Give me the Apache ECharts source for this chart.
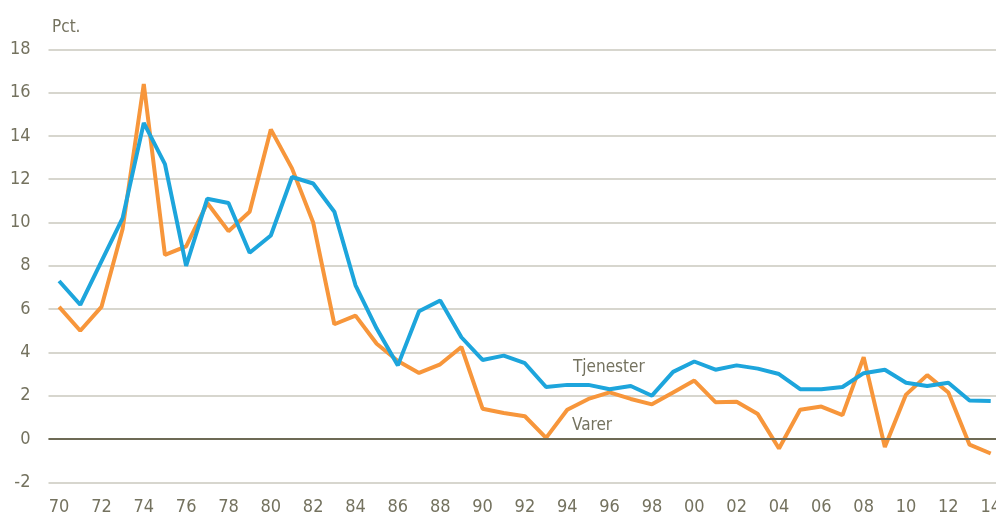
<!DOCTYPE html>
<html>
<head>
<meta charset="utf-8">
<script src="https://cdn.jsdelivr.net/npm/echarts@6/dist/echarts.min.js"></script>
<style>
html,body{margin:0;padding:0;background:#fff;overflow:hidden;}
#c{width:1004px;height:518px;}
</style>
</head>
<body>
<div id="c"></div>
<script>
const years = ['70','71','72','73','74','75','76','77','78','79','80','81','82','83','84','85','86','87','88','89','90','91','92','93','94','95','96','97','98','99','00','01','02','03','04','05','06','07','08','09','10','11','12','13','14'];
const tjenester = [7.3,6.2,8.2,10.2,14.6,12.7,8.0,11.1,10.9,8.6,9.4,12.1,11.8,10.5,7.1,5.1,3.4,5.9,6.4,4.7,3.65,3.85,3.5,2.4,2.5,2.5,2.3,2.45,2.0,3.1,3.58,3.2,3.4,3.25,3.0,2.3,2.3,2.4,3.04,3.2,2.6,2.45,2.6,1.78,1.75];
const varer = [6.1,5.0,6.1,9.7,16.4,8.5,8.9,10.9,9.6,10.5,14.3,12.5,10.0,5.3,5.7,4.4,3.6,3.05,3.45,4.25,1.4,1.2,1.05,0.05,1.35,1.85,2.15,1.85,1.6,2.15,2.7,1.7,1.72,1.15,-0.44,1.35,1.5,1.1,3.78,-0.37,2.05,2.95,2.15,-0.26,-0.67];
const yTicks = {min:-2, max:18, interval:2};
const unitLabel = 'Pct.';
const seriesNames = ['Tjenester','Varer'];

// pick a condensed font that is installed
const ctx = document.createElement('canvas').getContext('2d');
function mw(f){ ctx.font = f; return ctx.measureText('Tjenester 18 Pct.').width; }
let fam = '"Liberation Sans", sans-serif', stretch = '', fs = 20, ft = 20;
const base = mw('20px "Liberation Sans"');
if (mw('20px "Liberation Sans Narrow", monospace') !== mw('20px monospace') && mw('20px "Liberation Sans Narrow", serif') !== mw('20px serif')) {
  fam = '"Liberation Sans Narrow"';
} else if (mw('condensed 20px "Liberation Sans"') < base - 2) {
  stretch = 'condensed';
} else if (mw('20px "DejaVu Sans Condensed", monospace') !== mw('20px monospace')) {
  fam = '"DejaVu Sans Condensed"'; fs = 18; ft = 17;
} else {
  fam = '"Liberation Sans", sans-serif'; fs = 17; ft = 17;
}
const fontStr = (stretch ? stretch + ' ' : '') + ft + 'px ' + fam;
const fw = stretch ? stretch : 'normal';

const txtColor = '#74725F';
const chart = echarts.init(document.getElementById('c'), null, {renderer:'canvas'});
chart.setOption({
  animation:false,
  backgroundColor:'#fff',
  grid:{left:48.5, right:1.5, top:49.3, bottom:35.7, containLabel:false},
  xAxis:{
    type:'category', data:years, boundaryGap:true,
    axisLine:{show:false}, axisTick:{show:false},
    axisLabel:{interval:1, color:txtColor, fontFamily:fam, fontWeight:fw, fontSize:fs, margin:16},
    splitLine:{show:false}
  },
  yAxis:{
    type:'value', min:yTicks.min, max:yTicks.max, interval:yTicks.interval,
    axisLine:{show:false}, axisTick:{show:false},
    axisLabel:{color:txtColor, fontFamily:fam, fontWeight:fw, fontSize:fs, margin:18},
    splitLine:{lineStyle:{color:'#CAC9BE', width:1.5}}
  },
  graphic:[
    {type:'text', left:52, top:19, style:{text:unitLabel, fill:txtColor, font:fontStr}},
    {type:'text', left:573, top:359, style:{text:seriesNames[0], fill:txtColor, font:fontStr}},
    {type:'text', left:572, top:417, style:{text:seriesNames[1], fill:txtColor, font:fontStr}}
  ],
  series:[
    {
      name:seriesNames[1], type:'line', data:varer, symbol:'none', smooth:false,
      lineStyle:{color:'#F7963B', width:4}, z:3,
      markLine:{silent:true, symbol:'none', label:{show:false},
        lineStyle:{color:'#6D6A55', width:2, type:'solid'},
        data:[{yAxis:0}]}
    },
    {
      name:seriesNames[0], type:'line', data:tjenester, symbol:'none', smooth:false,
      lineStyle:{color:'#1DA5DC', width:4}, z:4
    }
  ]
});
</script>
</body>
</html>
